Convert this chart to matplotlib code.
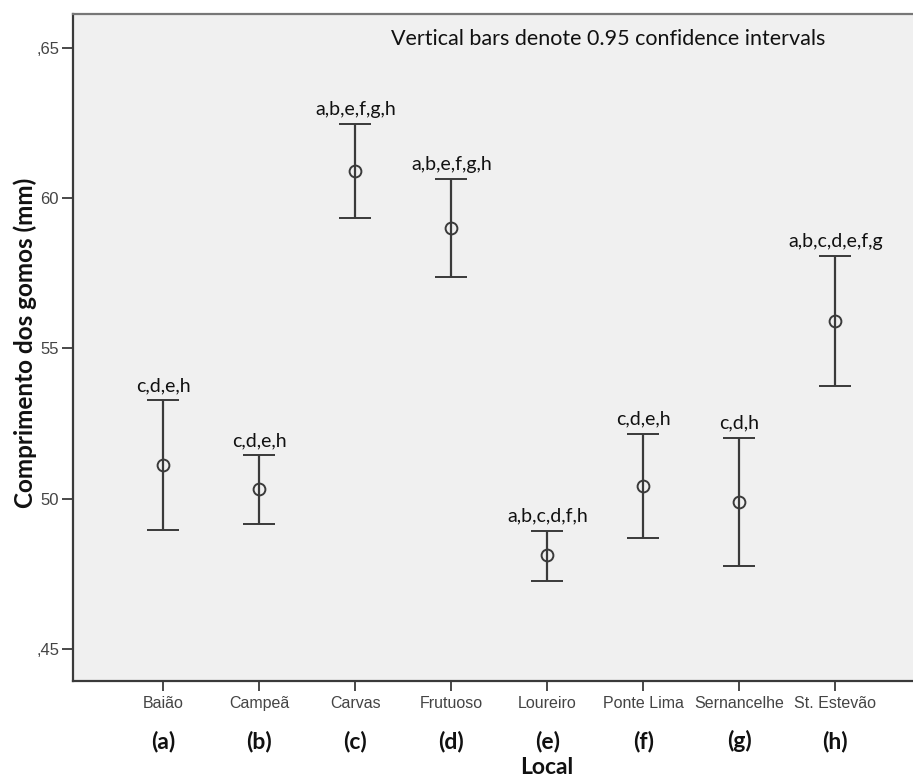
import matplotlib
matplotlib.use("Agg")
import matplotlib.pyplot as plt
import matplotlib.transforms as mtransforms

# Site names, group letters and post-hoc significance labels
locais = ["Baião", "Campeã", "Carvas", "Frutuoso", "Loureiro",
          "Ponte Lima", "Sernancelhe", "St. Estevão"]
grupos = ["(a)", "(b)", "(c)", "(d)", "(e)", "(f)", "(g)", "(h)"]
signif = ["c,d,e,h", "c,d,e,h", "a,b,e,f,g,h", "a,b,e,f,g,h",
          "a,b,c,d,f,h", "c,d,e,h", "c,d,h", "a,b,c,d,e,f,g"]

# Mean bud length and 95% confidence limits (mm)
media = [51.12, 50.31, 60.91, 59.01, 48.12, 50.42, 49.89, 55.92]
ic_inf = [48.96, 49.16, 59.34, 57.38, 47.27, 48.70, 47.77, 53.76]
ic_sup = [53.28, 51.45, 62.46, 60.63, 48.94, 52.15, 52.03, 58.08]

# Axis tick values and their printed labels
yticks = [45, 50, 55, 60, 65]
ytick_labels = [",45", "50", "55", "60", ",65"]

W, H = 913, 780
fig = plt.figure(figsize=(W / 100, H / 100), dpi=100)
fig.patch.set_facecolor("white")

left, right, top, bottom = 73, 915, 14, 681
ax = fig.add_axes([left / W, 1 - bottom / H, (right - left) / W, (bottom - top) / H])
ax.set_facecolor("#f0f0f0")

edge = "#3a3a3a"
x = list(range(len(locais)))
err_low = [m - lo for m, lo in zip(media, ic_inf)]
err_high = [hi - m for m, hi in zip(media, ic_sup)]
ax.errorbar(x, media, yerr=[err_low, err_high], fmt="o", color=edge,
            mfc="none", mec=edge, ms=8.5, mew=1.4, elinewidth=1.6,
            capsize=11.5, capthick=1.8, zorder=3)

calibri_like = ["Lato", "DejaVu Sans"]
for xi, hi, lab in zip(x, ic_sup, signif):
    ax.annotate(lab, (xi, hi), xytext=(0, 4.5), textcoords="offset points",
                ha="center", va="bottom", fontsize=14, color="#111111",
                family=calibri_like)

ax.text((608 - left) / (right - left), 0.962,
        "Vertical bars denote 0.95 confidence intervals",
        transform=ax.transAxes, ha="center", va="center", fontsize=15.5,
        color="#111111", family=calibri_like)

ax.set_xlim(-0.94, 7.83)
ax.set_ylim(43.94, 66.12)
ax.set_yticks(yticks)
ax.set_yticklabels(ytick_labels)
ax.set_xticks(x)
ax.set_xticklabels(locais)

for s in ["left", "bottom", "top"]:
    ax.spines[s].set_color(edge)
    ax.spines[s].set_linewidth(1.6)
ax.spines["top"].set_color("#777777")
ax.spines["right"].set_visible(False)

ax.tick_params(axis="y", length=8, width=1.3, color=edge, pad=2,
               labelsize=12, labelcolor="#444444")
ax.tick_params(axis="x", length=7, width=1.3, color=edge, pad=4,
               labelsize=11.5, labelcolor="#444444")
for t in ax.get_xticklabels() + ax.get_yticklabels():
    t.set_family(["Liberation Sans Narrow", "Liberation Sans", "DejaVu Sans"])

# Group letters under each site and the axis titles
blend = mtransforms.blended_transform_factory(ax.transData, fig.transFigure)
for xi, g in zip(x, grupos):
    ax.text(xi, 1 - 741 / H, g, transform=blend, ha="center", va="center",
            fontsize=16.5, fontweight="bold", color="#111111", family=calibri_like)

fig.text(547 / W, 1 - 768 / H, "Local", ha="center", va="center",
         fontsize=16.5, fontweight="bold", color="#111111", family=calibri_like)
fig.text(25 / W, 1 - 343 / H, "Comprimento dos gomos (mm)", rotation=90,
         ha="center", va="center", fontsize=17.5, fontweight="bold",
         color="#111111", family=calibri_like)

fig.savefig("out.png", dpi=100)
